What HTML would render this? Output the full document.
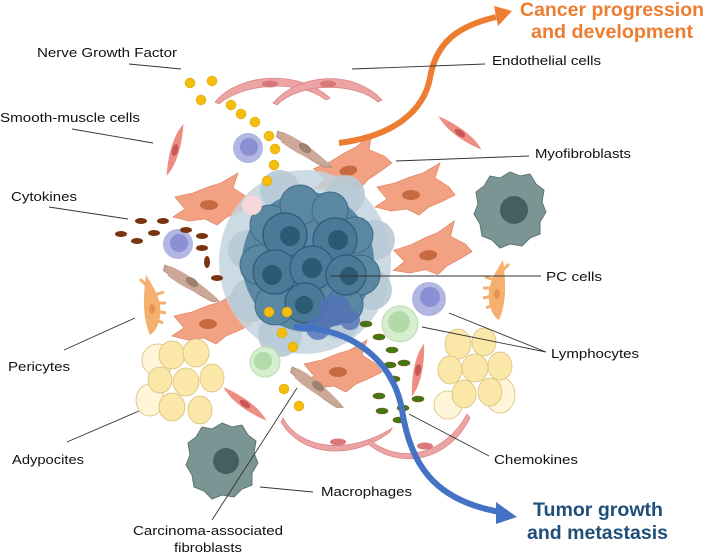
<!DOCTYPE html>
<html><head><meta charset="utf-8"><style>
html,body{margin:0;padding:0;background:#fff;}
svg{display:block;}
text{font-family:"Liberation Sans",Arial,sans-serif;}
.l{font-size:13px;fill:#111;}
.ln{stroke:#333;stroke-width:0.9;fill:none;}
</style></head><body>
<svg width="704" height="555" viewBox="0 0 704 555" xmlns="http://www.w3.org/2000/svg">
<defs>
<g id="myo"><path d="M-38,-6 L-20,-10 L-5,-16 L8,-20 L25,-30 L20,-15 L34,-6 L40,2 L28,8 L14,14 L4,22 L-8,16 L-24,18 L-40,14 L-28,6 Z" fill="#F2A283" stroke="#E08A68" stroke-width="0.8"/><ellipse cx="-4" cy="2" rx="9" ry="5" fill="#C86A40"/></g>
<g id="smc"><path d="M-26,8 C-10,-2 10,-10 26,-8 C10,2 -10,10 -26,8 Z" fill="#EE8D82"/><ellipse cx="0" cy="0" rx="6" ry="3" fill="#C85656" transform="rotate(-20)"/></g>
<g id="fib"><path d="M-30,-12 C-10,-8 10,4 30,14 L24,16 C8,12 -12,2 -30,-6 Z" fill="#C9A696" stroke="#A88676" stroke-width="0.7"/><path d="M-25,-12 C-6,-8 12,2 28,12 C14,14 -10,6 -25,-2Z" fill="#CBA898"/><ellipse cx="0" cy="0" rx="7" ry="4" fill="#A08070" transform="rotate(25)"/></g>
<g id="peri"><path d="M-6,-30 C4,-14 10,-4 8,12 C6,22 2,28 -2,30 C-8,16 -10,0 -6,-30Z" fill="#F5B070"/><path d="M2,-10 l10,-3 M4,-2 l10,0 M4,6 l10,2 M2,14 l9,4 M-6,-20 l-6,-6" stroke="#F5B070" stroke-width="3"/><ellipse cx="0" cy="4" rx="3" ry="5" fill="#E89050"/></g>
</defs>

<path d="M215,102 C240,72 300,70 330,98 L326,100 C300,80 245,82 219,104Z" fill="#EBA3A3" stroke="#D88080" stroke-width="0.7"/>
<path d="M273,103 C300,72 355,70 382,100 L378,102 C355,82 300,82 277,105Z" fill="#EBA3A3" stroke="#D88080" stroke-width="0.7"/>
<ellipse cx="270" cy="84" rx="8" ry="3.5" fill="#D87878"/><ellipse cx="328" cy="84" rx="8" ry="3.5" fill="#D87878"/>
<path d="M283,418 C300,450 350,455 392,428 L390,432 C350,462 300,455 281,422Z" fill="#EBA3A3" stroke="#D88080" stroke-width="0.7"/>
<path d="M370,440 C400,465 445,455 467,414 L470,418 C448,462 400,470 368,444Z" fill="#EBA3A3" stroke="#D88080" stroke-width="0.7"/>
<ellipse cx="338" cy="442" rx="8" ry="3.5" fill="#D87878"/><ellipse cx="425" cy="446" rx="8" ry="3.5" fill="#D87878"/>

<use href="#smc" transform="translate(175,150) rotate(-55)"/>
<use href="#smc" transform="translate(460,133) rotate(55)"/>
<use href="#smc" transform="translate(245,404) rotate(55)"/>
<use href="#smc" transform="translate(418,370) rotate(-60)"/>

<use href="#myo" transform="translate(213,203)"/>
<use href="#myo" transform="translate(352,168) rotate(-10)"/>
<use href="#myo" transform="translate(415,193)"/>
<use href="#myo" transform="translate(432,253) rotate(-5)"/>
<use href="#myo" transform="translate(212,322)"/>
<use href="#myo" transform="translate(342,370)"/>

<path d="M510,172 l10,4 l10,-2 l6,10 l8,6 l-2,12 l4,10 l-6,10 l0,12 l-10,4 l-8,8 l-12,-2 l-10,4 l-8,-8 l-10,-4 l-2,-12 l-6,-10 l4,-10 l-2,-12 l8,-6 l6,-10 l10,2Z" fill="#7A9593" stroke="#5C7674"/>
<circle cx="514" cy="210" r="14" fill="#445F5D"/>
<path d="M222,423 l10,4 l10,-2 l6,10 l8,6 l-2,12 l4,10 l-6,10 l0,12 l-10,4 l-8,8 l-12,-2 l-10,4 l-8,-8 l-10,-4 l-2,-12 l-6,-10 l4,-10 l-2,-12 l8,-6 l6,-10 l10,2Z" fill="#7A9593" stroke="#5C7674"/>
<circle cx="226" cy="461" r="13" fill="#445F5D"/>

<g fill="#FBE7A8" stroke="#D8C07A" stroke-width="0.8">
<ellipse cx="158" cy="360" rx="16" ry="16" fill="#FFF6DA"/><ellipse cx="150" cy="400" rx="14" ry="16" fill="#FFF6DA"/>
<ellipse cx="172" cy="355" rx="13" ry="14"/><ellipse cx="196" cy="353" rx="13" ry="14"/>
<ellipse cx="160" cy="380" rx="12" ry="13"/><ellipse cx="186" cy="382" rx="13" ry="14"/><ellipse cx="212" cy="378" rx="12" ry="14"/>
<ellipse cx="172" cy="407" rx="13" ry="14"/><ellipse cx="200" cy="410" rx="12" ry="14"/>
</g>
<g fill="#FBE7A8" stroke="#D8C07A" stroke-width="0.8">
<ellipse cx="500" cy="395" rx="15" ry="18" fill="#FFF6DA"/><ellipse cx="448" cy="405" rx="14" ry="14" fill="#FFF6DA"/>
<ellipse cx="458" cy="344" rx="13" ry="15"/><ellipse cx="484" cy="342" rx="12" ry="14"/>
<ellipse cx="450" cy="370" rx="12" ry="14"/><ellipse cx="475" cy="368" rx="13" ry="14"/><ellipse cx="500" cy="366" rx="12" ry="14"/>
<ellipse cx="464" cy="394" rx="12" ry="14"/><ellipse cx="490" cy="392" rx="12" ry="14"/>
</g>

<use href="#fib" transform="translate(305,148) rotate(10)"/>
<use href="#fib" transform="translate(192,282) rotate(10)"/>
<use href="#fib" transform="translate(318,386) rotate(15)"/>

<use href="#peri" transform="translate(152,305)"/>
<use href="#peri" transform="translate(497,290) scale(-1,1)"/>

<g>
<ellipse cx="305" cy="262" rx="86" ry="92" fill="#C3D3DE" opacity="0.85"/>
<g fill="#B8CAD6" opacity="0.9">
<circle cx="248" cy="250" r="20"/><circle cx="252" cy="300" r="22"/><circle cx="280" cy="190" r="20"/><circle cx="345" cy="195" r="20"/><circle cx="375" cy="240" r="20"/><circle cx="372" cy="290" r="20"/><circle cx="280" cy="335" r="22"/><circle cx="340" cy="320" r="20"/>
</g>
<ellipse cx="308" cy="262" rx="66" ry="70" fill="#5A88A2"/>
<g fill="#5A88A2" stroke="#3E6A84" stroke-width="1">
<circle cx="270" cy="225" r="20"/><circle cx="300" cy="205" r="20"/><circle cx="330" cy="210" r="18"/><circle cx="355" cy="235" r="18"/><circle cx="260" cy="265" r="20"/><circle cx="360" cy="275" r="20"/><circle cx="275" cy="305" r="20"/><circle cx="345" cy="305" r="18"/>
</g>
<g fill="#4A7A97" stroke="#30597A" stroke-width="1.2">
<circle cx="285" cy="235" r="22"/><circle cx="335" cy="240" r="22"/><circle cx="275" cy="272" r="22"/><circle cx="312" cy="268" r="22"/><circle cx="346" cy="275" r="20"/><circle cx="305" cy="303" r="20"/>
</g>
<g fill="#2C5A72">
<circle cx="290" cy="236" r="10"/><circle cx="338" cy="240" r="10"/><circle cx="272" cy="275" r="10"/><circle cx="312" cy="268" r="10"/><circle cx="349" cy="276" r="9"/><circle cx="304" cy="305" r="9"/>
</g>
<g fill="#5272B8" opacity="0.8"><circle cx="335" cy="310" r="16"/><circle cx="318" cy="328" r="12"/><circle cx="350" cy="320" r="10"/></g>
<circle cx="252" cy="205" r="10" fill="#F4D8DA"/>
</g>

<circle cx="248" cy="148" r="15" fill="#B1B6E2"/><circle cx="249" cy="147" r="9" fill="#8C8FD4"/>
<circle cx="178" cy="244" r="15" fill="#B1B6E2"/><circle cx="179" cy="243" r="9" fill="#8C8FD4"/>
<circle cx="429" cy="299" r="17" fill="#B1B6E2"/><circle cx="430" cy="297" r="10" fill="#8C8FD4"/>
<circle cx="400" cy="324" r="18" fill="#D6EED0" stroke="#B8DDB0"/><circle cx="399" cy="322" r="11" fill="#B2DAA8"/>
<circle cx="265" cy="362" r="15" fill="#D6EED0" stroke="#B8DDB0"/><circle cx="263" cy="361" r="9" fill="#B2DAA8"/>

<g fill="#F5BD0E" stroke="#D9A000" stroke-width="0.5">
<circle cx="190" cy="83" r="5"/><circle cx="212" cy="81" r="5"/><circle cx="201" cy="100" r="5"/><circle cx="231" cy="105" r="5"/><circle cx="241" cy="114" r="5"/><circle cx="255" cy="122" r="5"/><circle cx="269" cy="136" r="5"/><circle cx="275" cy="149" r="5"/><circle cx="274" cy="165" r="5"/><circle cx="267" cy="181" r="5"/>
<circle cx="269" cy="312" r="5"/><circle cx="287" cy="312" r="5"/><circle cx="282" cy="333" r="5"/><circle cx="293" cy="347" r="5"/><circle cx="284" cy="389" r="5"/><circle cx="299" cy="406" r="5"/>
</g>
<g fill="#7A3510">
<ellipse cx="141" cy="221" rx="6" ry="3"/><ellipse cx="163" cy="221" rx="6" ry="3"/><ellipse cx="121" cy="234" rx="6" ry="3"/><ellipse cx="154" cy="233" rx="6" ry="3"/><ellipse cx="137" cy="241" rx="6" ry="3"/><ellipse cx="186" cy="230" rx="6" ry="3"/><ellipse cx="202" cy="236" rx="6" ry="3"/><ellipse cx="202" cy="248" rx="6" ry="3"/><ellipse cx="207" cy="262" rx="3" ry="6"/><ellipse cx="217" cy="278" rx="6" ry="3"/>
</g>
<g fill="#3F7A10" stroke="#8A4A20" stroke-width="0.6">
<ellipse cx="366" cy="324" rx="6" ry="3"/><ellipse cx="379" cy="337" rx="6" ry="3"/><ellipse cx="392" cy="350" rx="6" ry="3"/><ellipse cx="390" cy="365" rx="6" ry="3"/><ellipse cx="404" cy="363" rx="6" ry="3"/><ellipse cx="394" cy="379" rx="6" ry="3"/><ellipse cx="379" cy="396" rx="6" ry="3"/><ellipse cx="418" cy="399" rx="6" ry="3"/><ellipse cx="382" cy="411" rx="6" ry="3"/><ellipse cx="403" cy="408" rx="6" ry="3"/><ellipse cx="399" cy="420" rx="6" ry="3"/>
</g>

<path d="M339,143 C395,136 424,110 430,78 C436,42 458,26 496,17" fill="none" stroke="#ED7D31" stroke-width="6"/>
<polygon points="512,11 494,6 498,26" fill="#ED7D31"/>
<path d="M294,327 C360,328 395,368 402,410 C410,462 432,500 500,512" fill="none" stroke="#4472C4" stroke-width="6"/>
<polygon points="517,517 496,502 496,524" fill="#4472C4"/>

<path class="ln" d="M129,64 L181,69 M352,69 L485,64 M72,129 L153,143 M396,161 L529,156 M49,207 L128,219 M330,276 L541,276 M64,350 L135,318 M449,313 L546,352 M422,327 L546,352 M67,442 L139,411 M409,414 L489,456 M260,487 L313,492 M212,520 L297,388"/>

<text class="l" x="37" y="57" textLength="140" lengthAdjust="spacingAndGlyphs">Nerve Growth Factor</text>
<text class="l" x="492" y="65" textLength="109" lengthAdjust="spacingAndGlyphs">Endothelial cells</text>
<text class="l" x="0" y="122" textLength="140" lengthAdjust="spacingAndGlyphs">Smooth-muscle cells</text>
<text class="l" x="535" y="158" textLength="96" lengthAdjust="spacingAndGlyphs">Myofibroblasts</text>
<text class="l" x="11" y="201" textLength="66" lengthAdjust="spacingAndGlyphs">Cytokines</text>
<text class="l" x="546" y="281" textLength="56" lengthAdjust="spacingAndGlyphs">PC cells</text>
<text class="l" x="8" y="371" textLength="62" lengthAdjust="spacingAndGlyphs">Pericytes</text>
<text class="l" x="551" y="358" textLength="88" lengthAdjust="spacingAndGlyphs">Lymphocytes</text>
<text class="l" x="12" y="464" textLength="72" lengthAdjust="spacingAndGlyphs">Adypocites</text>
<text class="l" x="494" y="464" textLength="84" lengthAdjust="spacingAndGlyphs">Chemokines</text>
<text class="l" x="321" y="496" textLength="91" lengthAdjust="spacingAndGlyphs">Macrophages</text>
<text class="l" x="133" y="535" textLength="150" lengthAdjust="spacingAndGlyphs">Carcinoma-associated</text>
<text class="l" x="174" y="552" textLength="68" lengthAdjust="spacingAndGlyphs">fibroblasts</text>
<text x="520" y="16" font-size="19" font-weight="bold" fill="#ED7D31" textLength="184" lengthAdjust="spacingAndGlyphs">Cancer progression</text>
<text x="531" y="38" font-size="19" font-weight="bold" fill="#ED7D31" textLength="162" lengthAdjust="spacingAndGlyphs">and development</text>
<text x="533" y="516" font-size="19" font-weight="bold" fill="#1F4E79" textLength="130" lengthAdjust="spacingAndGlyphs">Tumor growth</text>
<text x="527" y="539" font-size="19" font-weight="bold" fill="#1F4E79" textLength="141" lengthAdjust="spacingAndGlyphs">and metastasis</text>
</svg>
</body></html>
